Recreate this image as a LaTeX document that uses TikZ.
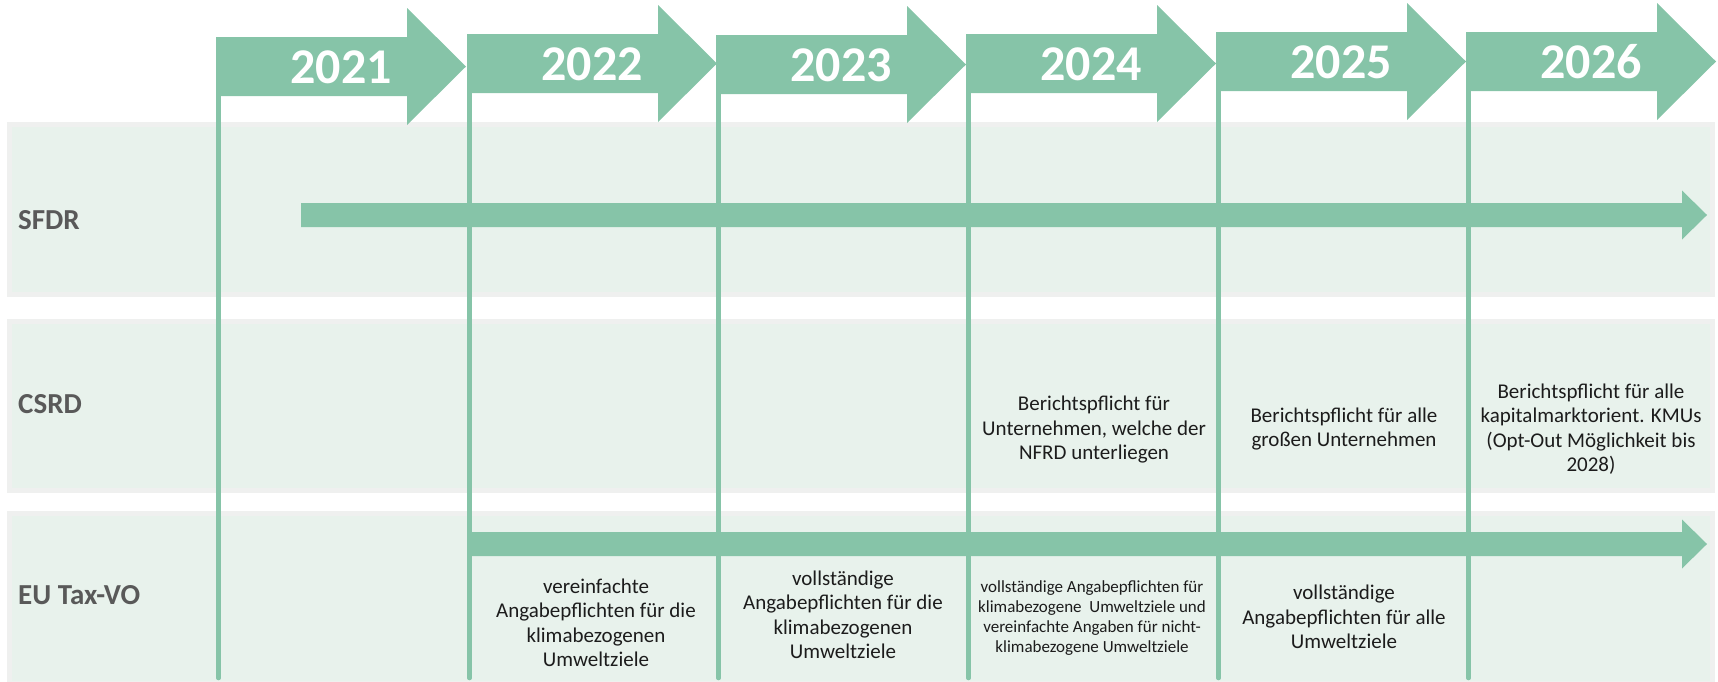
\documentclass[tikz,border=0pt]{standalone}
\usepackage{fontspec}
\setmainfont{Carlito}
\definecolor{arrowgreen}{RGB}{134,196,168}
\definecolor{bandfill}{RGB}{232,242,236}
\definecolor{bandedge}{RGB}{239,240,239}
\definecolor{labelgray}{RGB}{89,89,89}
\definecolor{bodytext}{RGB}{28,28,28}

% year arrow: name, left edge, top of body, year
\newcommand\yeararrow[4]{%
  \coordinate (#1-foot) at ({#2+2.5},{#3+57});
  \draw[yearline] (#1-foot) -- (#1-foot |- bottomline);
  \fill[arrowgreen] (#2,#3) -- ({#2+191},#3) -- ({#2+191},{#3-29}) --
    ({#2+250},{#3+29.5}) -- ({#2+191},{#3+88}) -- ({#2+191},{#3+59}) --
    (#2,{#3+59}) -- cycle;
  \node[yeartext] (#1) at ({#2+125},{#3+30}) {#4};
}
% long timeline arrow: name, start x, end x (tip), centre y
\newcommand\timearrow[4]{%
  \coordinate (#1-start) at (#2,#4);
  \coordinate (#1-tip) at (#3,#4);
  \fill[arrowgreen] ([yshift=12pt]#1-start) -- ([xshift=-25pt,yshift=12pt]#1-tip) --
    ([xshift=-25pt,yshift=24.5pt]#1-tip) -- (#1-tip) --
    ([xshift=-25pt,yshift=-24.5pt]#1-tip) -- ([xshift=-25pt,yshift=-12pt]#1-tip) --
    ([yshift=-12pt]#1-start) -- cycle;
}

\begin{document}
\begin{tikzpicture}[x=1pt,y=-1pt,
  band/.style={fill=bandfill,draw=bandedge,line width=5pt},
  yearline/.style={draw=arrowgreen,line width=4.5pt,line cap=round},
  yeartext/.style={font=\fontsize{50}{50}\selectfont\bfseries,text=white,inner sep=0pt},
  rowlabel/.style={font=\fontsize{29}{30}\selectfont\bfseries,text=labelgray,anchor=west,inner sep=0pt},
  note/.style={font=\fontsize{21}{24.5}\selectfont,text=bodytext,align=center,inner sep=0pt},
  smallnote/.style={font=\fontsize{17}{20}\selectfont,text=bodytext,align=center,inner sep=0pt}]
\useasboundingbox (0,0) rectangle (1718,681);
\coordinate (bottomline) at (0,678);

% row bands
\path[band] (9.5,124.5) rectangle (1712.5,294.5);
\path[band] (9.5,321.5) rectangle (1712.5,490.5);
\path[band] (9.5,513.5) rectangle (1712.5,683);

% year arrows with their column lines
\yeararrow{y2021}{216}{37}{2021}
\yeararrow{y2022}{467}{34}{2022}
\yeararrow{y2023}{716}{35}{2023}
\yeararrow{y2024}{966}{34}{2024}
\yeararrow{y2025}{1216}{32}{2025}
\yeararrow{y2026}{1466}{32}{2026}

% regulation timelines
\timearrow{sfdr}{301}{1707}{215}
\timearrow{tax}{467}{1707}{544}

% row labels
\node[rowlabel] (lsfdr) at (18,220) {SFDR};
\node[rowlabel] (lcsrd) at (18,404) {CSRD};
\node[rowlabel] (ltax) at (18,595) {EU Tax-VO};

% CSRD milestones
\node[note] (c2024) at (1094,430) {Berichtspflicht für\\Unternehmen, welche der\\NFRD unterliegen};
\node[note] (c2025) at (1344,429) {Berichtspflicht für alle\\großen Unternehmen};
\node[note] (c2026) at (1591,429) {Berichtspflicht für alle\\kapitalmarktorient. KMUs\\(Opt-Out Möglichkeit bis\\2028)};

% EU taxonomy milestones
\node[note] (t2022) at (596,623) {vereinfachte\\Angabepflichten für die\\klimabezogenen\\Umweltziele};
\node[note] (t2023) at (843,615) {vollständige\\Angabepflichten für die\\klimabezogenen\\Umweltziele};
\node[smallnote] (t2024) at (1092,618) {vollständige Angabepflichten für\\klimabezogene\ \ Umweltziele und\\vereinfachte Angaben für nicht-\\klimabezogene Umweltziele};
\node[note] (t2025) at (1344,617) {vollständige\\Angabepflichten für alle\\Umweltziele};
\end{tikzpicture}
\end{document}
